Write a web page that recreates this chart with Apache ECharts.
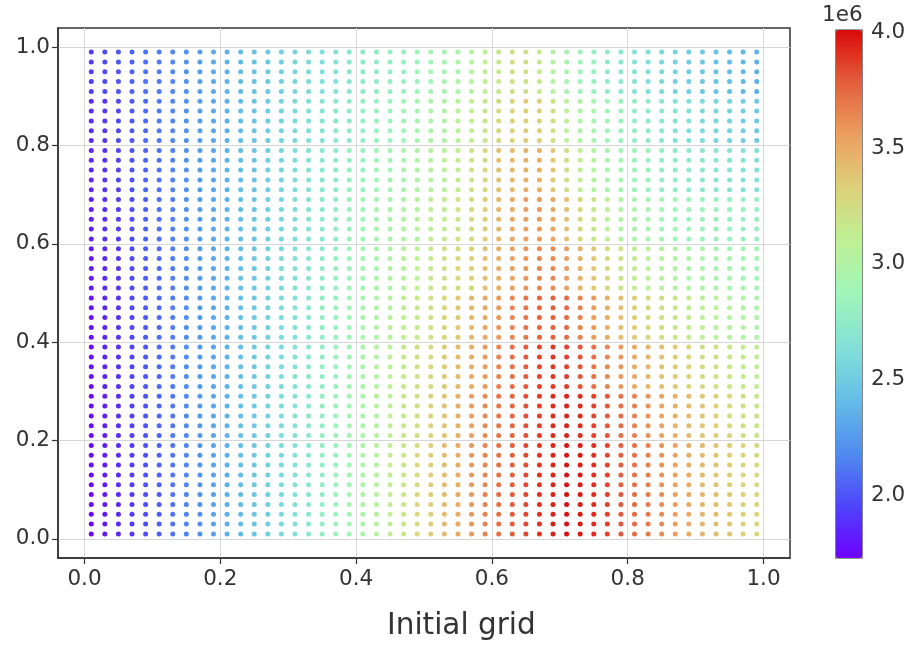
<!DOCTYPE html>
<html>
<head>
<meta charset="utf-8">
<script src="https://cdn.jsdelivr.net/npm/echarts@6/dist/echarts.min.js"></script>
<style>
  html, body { margin: 0; padding: 0; background: #fff; }
  #chart { width: 914px; height: 646px; }
</style>
</head>
<body>
<div id="chart"></div>
<script>
// grid positions (same for x and y)
const gridPos = [0.01, 0.03, 0.05, 0.07, 0.09, 0.11, 0.13, 0.15, 0.17, 0.19,
  0.21, 0.23, 0.25, 0.27, 0.29, 0.31, 0.33, 0.35, 0.37, 0.39,
  0.41, 0.43, 0.45, 0.47, 0.49, 0.51, 0.53, 0.55, 0.57, 0.59,
  0.61, 0.63, 0.65, 0.67, 0.69, 0.71, 0.73, 0.75, 0.77, 0.79,
  0.81, 0.83, 0.85, 0.87, 0.89, 0.91, 0.93, 0.95, 0.97, 0.99];

// values (x 1e6) read per column, one array per band of 5 rows (bottom to top)
const band0 = [1.76, 1.81, 1.86, 1.92, 1.98, 2.04, 2.10, 2.16, 2.22, 2.28,
  2.34, 2.40, 2.46, 2.52, 2.58, 2.64, 2.70, 2.77, 2.84, 2.91,
  2.98, 3.05, 3.12, 3.19, 3.27, 3.35, 3.43, 3.51, 3.59, 3.66,
  3.73, 3.79, 3.85, 3.90, 3.95, 3.99, 3.97, 3.92, 3.86, 3.80,
  3.74, 3.68, 3.62, 3.56, 3.51, 3.46, 3.42, 3.38, 3.34, 3.30];
const band1 = [1.77, 1.82, 1.87, 1.93, 1.99, 2.05, 2.11, 2.17, 2.23, 2.29,
  2.35, 2.41, 2.47, 2.53, 2.59, 2.65, 2.71, 2.77, 2.83, 2.90,
  2.97, 3.04, 3.11, 3.18, 3.26, 3.34, 3.42, 3.50, 3.58, 3.65,
  3.72, 3.78, 3.84, 3.89, 3.94, 3.98, 3.96, 3.91, 3.85, 3.78,
  3.72, 3.66, 3.60, 3.54, 3.49, 3.44, 3.39, 3.35, 3.31, 3.27];
const band2 = [1.78, 1.83, 1.88, 1.94, 2.00, 2.06, 2.12, 2.18, 2.24, 2.30,
  2.36, 2.42, 2.48, 2.54, 2.60, 2.66, 2.72, 2.78, 2.84, 2.90,
  2.96, 3.03, 3.10, 3.17, 3.24, 3.32, 3.40, 3.48, 3.56, 3.63,
  3.70, 3.76, 3.82, 3.87, 3.92, 3.94, 3.91, 3.86, 3.80, 3.73,
  3.66, 3.60, 3.54, 3.48, 3.43, 3.38, 3.33, 3.28, 3.24, 3.20];
const band3 = [1.79, 1.84, 1.89, 1.95, 2.01, 2.07, 2.13, 2.19, 2.25, 2.30,
  2.36, 2.42, 2.48, 2.54, 2.60, 2.66, 2.72, 2.78, 2.83, 2.89,
  2.95, 3.02, 3.08, 3.15, 3.22, 3.29, 3.36, 3.43, 3.50, 3.57,
  3.65, 3.72, 3.79, 3.85, 3.88, 3.86, 3.80, 3.72, 3.64, 3.57,
  3.51, 3.45, 3.40, 3.35, 3.30, 3.26, 3.22, 3.18, 3.14, 3.11];
const band4 = [1.80, 1.85, 1.90, 1.96, 2.02, 2.08, 2.14, 2.19, 2.25, 2.31,
  2.36, 2.42, 2.48, 2.54, 2.60, 2.65, 2.71, 2.77, 2.82, 2.87,
  2.93, 2.99, 3.05, 3.11, 3.17, 3.23, 3.30, 3.37, 3.44, 3.51,
  3.58, 3.64, 3.70, 3.76, 3.78, 3.74, 3.66, 3.57, 3.49, 3.41,
  3.34, 3.28, 3.23, 3.18, 3.14, 3.10, 3.06, 3.03, 3.00, 2.97];
const band5 = [1.81, 1.86, 1.91, 1.97, 2.03, 2.08, 2.14, 2.20, 2.26, 2.31,
  2.36, 2.42, 2.47, 2.53, 2.59, 2.64, 2.70, 2.75, 2.80, 2.85,
  2.90, 2.95, 3.00, 3.05, 3.10, 3.16, 3.22, 3.28, 3.34, 3.41,
  3.48, 3.54, 3.59, 3.64, 3.63, 3.56, 3.47, 3.37, 3.28, 3.20,
  3.13, 3.08, 3.04, 3.01, 2.98, 2.96, 2.94, 2.92, 2.90, 2.88];
const band6 = [1.83, 1.88, 1.93, 1.98, 2.04, 2.09, 2.15, 2.21, 2.26, 2.31,
  2.36, 2.41, 2.46, 2.52, 2.57, 2.62, 2.67, 2.72, 2.77, 2.82,
  2.87, 2.91, 2.95, 3.00, 3.04, 3.09, 3.14, 3.20, 3.27, 3.35,
  3.45, 3.51, 3.56, 3.58, 3.52, 3.41, 3.29, 3.18, 3.09, 3.01,
  2.95, 2.92, 2.89, 2.87, 2.85, 2.84, 2.83, 2.82, 2.81, 2.80];
const band7 = [1.85, 1.90, 1.95, 2.00, 2.05, 2.10, 2.16, 2.21, 2.26, 2.31,
  2.36, 2.41, 2.46, 2.51, 2.56, 2.61, 2.65, 2.70, 2.74, 2.79,
  2.83, 2.87, 2.91, 2.95, 2.99, 3.03, 3.08, 3.13, 3.19, 3.28,
  3.40, 3.44, 3.47, 3.48, 3.38, 3.24, 3.12, 3.02, 2.95, 2.89,
  2.85, 2.82, 2.79, 2.76, 2.74, 2.72, 2.70, 2.68, 2.66, 2.64];
const band8 = [1.88, 1.92, 1.97, 2.02, 2.07, 2.12, 2.17, 2.22, 2.27, 2.31,
  2.35, 2.40, 2.45, 2.50, 2.55, 2.59, 2.63, 2.67, 2.71, 2.75,
  2.79, 2.82, 2.85, 2.89, 2.92, 2.96, 3.00, 3.05, 3.11, 3.18,
  3.26, 3.32, 3.35, 3.33, 3.22, 3.10, 3.00, 2.93, 2.87, 2.82,
  2.78, 2.74, 2.71, 2.67, 2.64, 2.60, 2.57, 2.54, 2.51, 2.48];
const band9 = [1.93, 1.97, 2.01, 2.05, 2.09, 2.13, 2.17, 2.22, 2.27, 2.32,
  2.36, 2.40, 2.44, 2.48, 2.52, 2.56, 2.60, 2.63, 2.66, 2.70,
  2.73, 2.76, 2.79, 2.82, 2.85, 2.88, 2.92, 2.97, 3.03, 3.10,
  3.17, 3.22, 3.22, 3.14, 3.03, 2.94, 2.86, 2.80, 2.75, 2.71,
  2.67, 2.63, 2.59, 2.55, 2.51, 2.48, 2.45, 2.41, 2.38, 2.35];

const axisTicks = [0.0, 0.2, 0.4, 0.6, 0.8, 1.0];
const colorTicks = [2.0, 2.5, 3.0, 3.5, 4.0];
const colorMin = 1.73;
const colorMax = 4.01;

const bands = [band0, band1, band2, band3, band4, band5, band6, band7, band8, band9];

// build points: each row takes the values of its band
const points = [];
gridPos.forEach((y, row) => {
  const vals = bands[Math.floor(row / 5)];
  gridPos.forEach((x, col) => {
    points.push([x, y, vals[col]]);
  });
});

// rainbow-like colour stops as seen on the reference colour bar
const rainbow = ['#6e00ff', '#4e46fa', '#508cf0', '#64bee6', '#82e1d7', '#a0f5b9',
  '#bef096', '#dcd278', '#eba05f', '#e45f3c', '#d80a0a'];

const font = 'DejaVu Sans';
const textColor = '#333';
const tickSize = 21.5;

const chart = echarts.init(document.getElementById('chart'));

const option = {
  animation: false,
  backgroundColor: '#fff',
  textStyle: { fontFamily: font },
  grid: [
    { left: 58, top: 28, width: 732, height: 530, show: true, borderColor: '#333', borderWidth: 1.5, backgroundColor: 'transparent' },
    { left: 836, top: 30, width: 26, height: 528, show: true, borderColor: '#333', borderWidth: 1.2, backgroundColor: 'transparent' }
  ],
  xAxis: [
    {
      type: 'value', gridIndex: 0, min: -0.039, max: 1.039, splitNumber: 5,
      axisLine: { show: true, onZero: false, lineStyle: { color: '#333', width: 1.5 } },
      axisTick: { show: true, inside: false, length: 6, lineStyle: { color: '#333', width: 1.2 }, customValues: axisTicks },
      axisLabel: { color: textColor, fontSize: tickSize, fontFamily: font, margin: 10, customValues: axisTicks,
        formatter: v => v.toFixed(1) },
      splitLine: { show: true, lineStyle: { color: '#d6d6d6', width: 1 } }
    },
    { type: 'value', gridIndex: 1, show: false, min: 0, max: 1 }
  ],
  yAxis: [
    {
      type: 'value', gridIndex: 0, min: -0.039, max: 1.039, splitNumber: 5,
      axisLine: { show: true, onZero: false, lineStyle: { color: '#333', width: 1.5 } },
      axisTick: { show: true, inside: false, length: 6, lineStyle: { color: '#333', width: 1.2 }, customValues: axisTicks },
      axisLabel: { color: textColor, fontSize: tickSize, fontFamily: font, margin: 8, customValues: axisTicks,
        formatter: v => v.toFixed(1) },
      splitLine: { show: true, lineStyle: { color: '#d6d6d6', width: 1 } }
    },
    {
      type: 'value', gridIndex: 1, position: 'right', min: colorMin, max: colorMax, splitNumber: 5,
      axisLine: { show: false },
      axisTick: { show: true, inside: false, length: 6, lineStyle: { color: '#333', width: 1.2 }, customValues: colorTicks },
      axisLabel: { color: textColor, fontSize: tickSize, fontFamily: font, margin: 9, customValues: colorTicks,
        formatter: v => v.toFixed(1) },
      splitLine: { show: false }
    }
  ],
  visualMap: {
    type: 'continuous',
    seriesIndex: 0,
    dimension: 2,
    min: colorMin,
    max: colorMax,
    calculable: false,
    realtime: false,
    left: 836,
    top: 30,
    itemWidth: 26,
    itemHeight: 528,
    padding: 0,
    text: null,
    showLabel: false,
    hoverLink: false,
    inRange: { color: rainbow }
  },
  graphic: [
    { type: 'text', left: 822, top: 4, style: { text: '1e6', fontSize: tickSize, fontFamily: font, fill: textColor } },
    { type: 'text', left: 387, top: 611, style: { text: 'Initial grid', fontSize: 29.5, fontFamily: font, fill: textColor } }
  ],
  series: [
    {
      type: 'scatter',
      xAxisIndex: 0,
      yAxisIndex: 0,
      symbolSize: 5,
      data: points,
      silent: true,
      itemStyle: { opacity: 1 }
    }
  ]
};

chart.setOption(option);
</script>
</body>
</html>
